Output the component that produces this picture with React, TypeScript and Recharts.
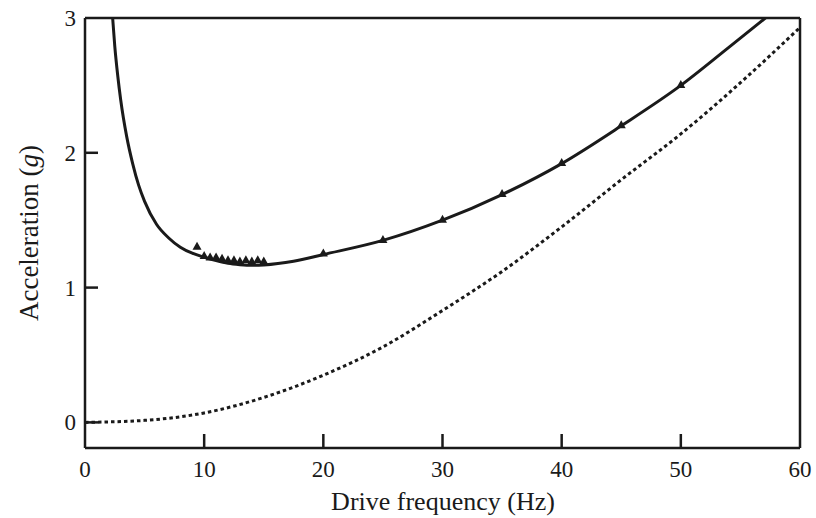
import React from "react";
import {
  ComposedChart,
  Line,
  Scatter,
  XAxis,
  YAxis,
  ReferenceLine,
} from "recharts";

// solid theory curve (Hz, g)
const curveFreq = [2.32, 2.5, 2.75, 3, 3.5, 4, 4.5, 5, 6, 7, 8, 9, 10, 11, 12, 13, 14, 15, 17.5, 20, 25, 30, 35, 40, 45, 50, 54, 57.1];
const curveAcc = [3.0, 2.79, 2.57, 2.39, 2.12, 1.92, 1.76, 1.64, 1.47, 1.37, 1.3, 1.255, 1.225, 1.2, 1.18, 1.17, 1.165, 1.168, 1.195, 1.245, 1.35, 1.5, 1.69, 1.92, 2.2, 2.5, 2.78, 3.0];

// dotted curve
const dotFreq = [0, 5, 10, 15, 20, 25, 30, 35, 40, 45, 50, 55, 60];
const dotAcc = [0, 0.015, 0.07, 0.185, 0.35, 0.56, 0.83, 1.12, 1.45, 1.8, 2.14, 2.52, 2.93];

// measured points (triangles)
const measFreq = [9.4, 10, 10.5, 11, 11.5, 12, 12.5, 13, 13.5, 14, 14.5, 15, 20, 25, 30, 35, 40, 45, 50];
const measAcc = [1.3, 1.23, 1.22, 1.22, 1.21, 1.2, 1.2, 1.19, 1.2, 1.19, 1.2, 1.19, 1.25, 1.35, 1.5, 1.69, 1.92, 2.2, 2.5];

const xTicks = [0, 10, 20, 30, 40, 50, 60];
const yTicks = [0, 1, 2, 3];

const zip = (f: number[], a: number[]) => f.map((v, i) => ({ f: v, a: a[i] }));
const curveData = zip(curveFreq, curveAcc);
const dotData = zip(dotFreq, dotAcc);
const measData = zip(measFreq, measAcc);

const font = "'Liberation Serif', 'DejaVu Serif', serif";
const ink = "#1a1a1a";

const XTick = (props: any) => {
  const { x, y, payload } = props;
  const v = payload.value;
  return (
    <g>
      {v > 0 && v < 60 && (
        <line x1={x} x2={x} y1={y} y2={y - 14} stroke={ink} strokeWidth={2.5} />
      )}
      <text x={x} y={y + 29} textAnchor="middle" fontSize={23} fontFamily={font} fill={ink}>
        {v}
      </text>
    </g>
  );
};

const YTick = (props: any) => {
  const { x, y, payload } = props;
  const v = payload.value;
  return (
    <g>
      {v < 3 && <line x1={x} x2={x + 13} y1={y} y2={y} stroke={ink} strokeWidth={2.5} />}
      <text x={x - 9} y={y + 8} textAnchor="end" fontSize={23} fontFamily={font} fill={ink}>
        {v}
      </text>
    </g>
  );
};

const Tri = (props: any) => {
  const { cx, cy } = props;
  if (cx == null || cy == null) return null;
  return (
    <polygon
      points={`${cx},${cy - 5.5} ${cx - 4.5},${cy + 2.5} ${cx + 4.5},${cy + 2.5}`}
      fill={ink}
    />
  );
};

const App = () => {
  return (
    <div style={{ position: "absolute", left: 0, top: 0, width: 816, height: 518, background: "#fff" }}>
      <ComposedChart width={816} height={518} margin={{ top: 18, right: 16, bottom: 0, left: 0 }}>
        <XAxis
          type="number"
          dataKey="f"
          domain={[0, 60]}
          ticks={xTicks}
          interval={0}
          height={70}
          tickSize={0}
          tickMargin={0}
          tickLine={false}
          tick={<XTick />}
          axisLine={{ stroke: ink, strokeWidth: 2.5 }}
          allowDataOverflow
        />
        <YAxis
          type="number"
          domain={[-0.19, 3]}
          ticks={yTicks}
          interval={0}
          width={85}
          tickSize={0}
          tickMargin={0}
          tickLine={false}
          tick={<YTick />}
          axisLine={{ stroke: ink, strokeWidth: 2.5 }}
          allowDataOverflow
        />
        <ReferenceLine y={3} stroke={ink} strokeWidth={2.5} />
        <ReferenceLine x={60} stroke={ink} strokeWidth={2.5} />
        <Line
          data={dotData}
          dataKey="a"
          type="monotone"
          stroke={ink}
          strokeWidth={3}
          strokeDasharray="3.5 3"
          dot={false}
          isAnimationActive={false}
        />
        <Line
          data={curveData}
          dataKey="a"
          type="monotone"
          stroke={ink}
          strokeWidth={3}
          dot={false}
          isAnimationActive={false}
        />
        <Scatter data={measData} dataKey="a" shape={<Tri />} isAnimationActive={false} />
      </ComposedChart>
      <svg
        width={816}
        height={518}
        style={{ position: "absolute", left: 0, top: 0, pointerEvents: "none" }}
      >
        <text
          x={38}
          y={233}
          transform="rotate(-90 38 233)"
          textAnchor="middle"
          fontSize={27}
          fontFamily={font}
          fill={ink}
        >
          Acceleration (<tspan fontStyle="italic">g</tspan>)
        </text>
        <text x={443} y={510} textAnchor="middle" fontSize={26} fontFamily={font} fill={ink}>
          Drive frequency (Hz)
        </text>
      </svg>
    </div>
  );
};

export default App;
